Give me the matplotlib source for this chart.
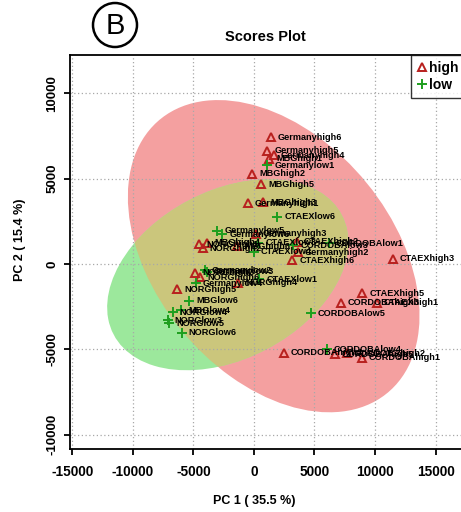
import numpy as np
import matplotlib
matplotlib.use("Agg")
import matplotlib.pyplot as plt
from matplotlib.patches import Ellipse
from matplotlib.lines import Line2D

plt.rcParams["font.family"] = ["Liberation Sans", "DejaVu Sans"]

# PCA scores, group "high"
high_names = [
    "Germanyhigh6", "Germanyhigh5", "Germanyhigh4", "MBGhigh1", "MBGhigh2",
    "MBGhigh5", "Germanyhigh1", "MBGhigh3", "Germanyhigh3", "NORGhigh1",
    "MBGhigh4", "NORGhigh2", "MBGhigh6", "CTAEXhigh2", "Germanyhigh2",
    "CTAEXhigh6", "CTAEXhigh3", "CTAEXhigh5", "CORDOBAhigh3", "CTAEXhigh1",
    "CORDOBAhigh4", "CORDOBAhigh5", "CORDOBAhigh2", "CORDOBAhigh1",
    "NORGhigh3", "NORGhigh6", "NORGhigh4", "NORGhigh5",
]
high_pc1 = [1405, 1102, 1653, 1267, -138, 579, -523, 744, 165, -4546,
            -3857, -4243, -1378, 3526, 3636, 3168, 11461, 8954, 7190, 10138,
            2480, 6695, 7659, 8899, -4876, -4463, -1295, -6364]
high_pc2 = [7422, 6640, 6367, 6171, 5293, 4668, 3554, 3633, 1777, 1172,
            1250, 937, 1055, 1307, 686, 234, 312, -1719, -2265, -2265,
            -5195, -5273, -5234, -5488, -508, -779, -1094, -1484]

# PCA scores, group "low"
low_names = [
    "Germanylow1", "CTAEXlow6", "Germanylow5", "Germanylow6", "CTAEXlow3",
    "CTAEXlow4", "CORDOBAlow3", "CORDOBAlow1", "Germanylow3", "Germanylow2",
    "Germanylow4", "CTAEXlow1", "MBGlow6", "NORGlow4", "MBGlow4",
    "NORGlow3", "NORGlow5", "NORGlow6", "CORDOBAlow5", "CORDOBAlow4",
]
low_pc1 = [1102, 1929, -3030, -2617, 358, 0, 3250, 6200, -3912, -4050,
           -4794, 441, -5372, -6722, -6000, -7135, -7025, -5978, 4711, 6006]
low_pc2 = [5800, 2773, 1953, 1758, 1250, 723, 1113, 1213, -449, -352,
           -1133, -879, -2148, -2832, -2700, -3281, -3476, -4023, -2890, -5000]

# 95% confidence regions: centre and 2x2 shape matrix (xx, yy, xy)
high_centre = (1630, 460)
high_shape = (1.452e8, 8.37e7, -4.2e7)
low_centre = (-2170, -630)
low_shape = (9.92e7, 3.13e7, 1.9e7)

x_ticks = [-15000, -10000, -5000, 0, 5000, 10000, 15000]
y_ticks = [-10000, -5000, 0, 5000, 10000]

HIGH_COL = "#B8201E"
LOW_COL = "#1E9E1E"


def region(centre, shape, **kw):
    sxx, syy, sxy = shape
    vals, vecs = np.linalg.eigh(np.array([[sxx, sxy], [sxy, syy]]))
    angle = np.degrees(np.arctan2(vecs[1, 1], vecs[0, 1]))
    return Ellipse(centre, 2 * np.sqrt(vals[1]), 2 * np.sqrt(vals[0]),
                   angle=angle, **kw)


fig = plt.figure(figsize=(4.61, 5.12), dpi=100)
ax = fig.add_axes([70 / 461, 63 / 512, 400 / 461, 394 / 512])
ax.set_xlim(-15200, 17850)
ax.set_ylim(-10840, 12250)

red_patch = region(high_centre, high_shape, facecolor="#F4A0A0",
                   edgecolor="none", zorder=1)
ax.add_patch(red_patch)
ax.add_patch(region(low_centre, low_shape, facecolor="#9CE89C",
                    edgecolor="none", zorder=1))
both = region(low_centre, low_shape, facecolor="#CBC67C",
              edgecolor="none", zorder=1.1)
ax.add_patch(both)
both.set_clip_path(red_patch)

ax.plot(high_pc1, high_pc2, linestyle="none", marker="^", markersize=6,
        markerfacecolor="none", markeredgecolor=HIGH_COL,
        markeredgewidth=1.4, zorder=3)
ax.plot(low_pc1, low_pc2, linestyle="none", marker="+", markersize=7,
        markeredgecolor=LOW_COL, markeredgewidth=1.4, zorder=3)

for names, xs, ys in ((high_names, high_pc1, high_pc2),
                      (low_names, low_pc1, low_pc2)):
    for n, x, y in zip(names, xs, ys):
        ax.annotate(n, (x, y), xytext=(5, 0), textcoords="offset points",
                    va="center", ha="left", fontsize=6.6,
                    fontweight="bold", color="black", zorder=4)

ax.set_xticks(x_ticks)
ax.set_yticks(y_ticks)
ax.set_xticklabels([str(v) for v in x_ticks], fontsize=9.8, fontweight="bold")
ax.set_yticklabels([str(v) for v in y_ticks], fontsize=9.5,
                   fontweight="bold", rotation=90, va="center")
ax.tick_params(axis="x", direction="out", length=4.5, width=1.3, pad=7)
ax.tick_params(axis="y", direction="out", length=4.5, width=1.3, pad=4)
ax.grid(True, linestyle=(0, (1, 2)), color="#A8A8A8", linewidth=0.9)
ax.set_axisbelow("line")
for s in ax.spines.values():
    s.set_linewidth(1.3)

ax.set_xlabel("PC 1 ( 35.5 %)", fontsize=9, fontweight="bold")
ax.set_ylabel("PC 2 ( 15.4 %)", fontsize=9, fontweight="bold")
ax.xaxis.set_label_coords(0.46, -0.118)
ax.yaxis.set_label_coords(-0.11, 0.53)

handles = [
    Line2D([], [], linestyle="none", marker="^", markersize=6,
           markerfacecolor="none", markeredgecolor=HIGH_COL,
           markeredgewidth=1.4, label="high"),
    Line2D([], [], linestyle="none", marker="+", markersize=7,
           markeredgecolor=LOW_COL, markeredgewidth=1.4, label="low"),
]
leg = ax.legend(handles=handles, loc="upper right",
                bbox_to_anchor=(0.9875, 1),
                prop={"weight": "bold", "size": 10}, frameon=True,
                fancybox=False, edgecolor="black", borderpad=0.45,
                handlelength=0.7, handletextpad=0.15, labelspacing=0.2,
                borderaxespad=0)
leg.get_frame().set_linewidth(1.0)

fig.text(265 / 461, 1 - 37 / 512, "Scores Plot", ha="center", va="center",
         fontsize=10.5, fontweight="bold")

fig.text(115 / 461, 1 - 26 / 512, "B", ha="center", va="center",
         fontsize=21)
fig.add_artist(Ellipse((115 / 461, 1 - 25 / 512), 44 / 461, 44 / 512,
                       transform=fig.transFigure, facecolor="none",
                       edgecolor="black", linewidth=1.8))

fig.savefig("out.png", dpi=100)
